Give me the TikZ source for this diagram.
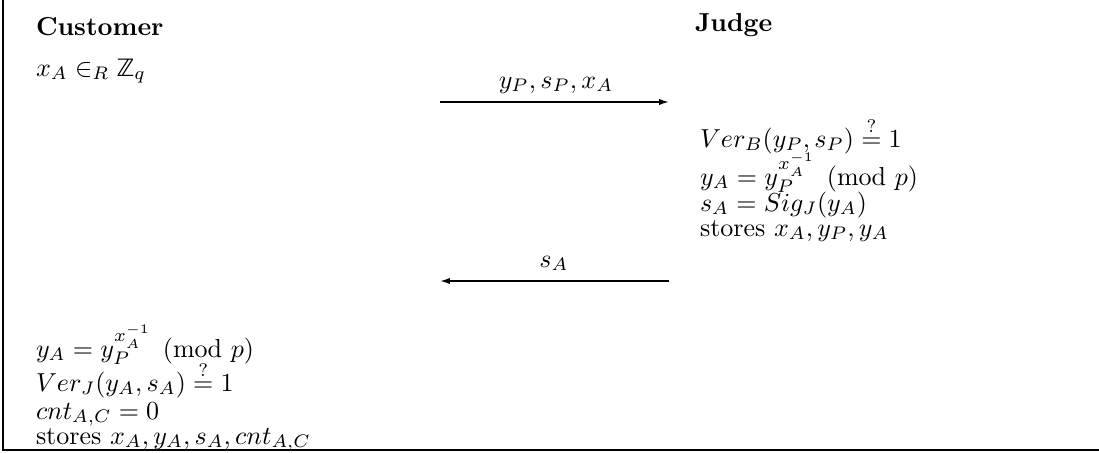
\documentclass[tikz,border=0pt]{standalone}
\usepackage{amsmath,amssymb}
\usepackage{fontspec}
\newfontfamily\dzfont[Scale=0.92]{DejaVu Sans}
\usetikzlibrary{arrows.meta}
\begin{document}
\begin{tikzpicture}[x=0.3846pt,y=-0.3846pt,
  txt/.style={anchor=base west,inner sep=0pt,outer sep=0pt},
  lbl/.style={anchor=base,inner sep=0pt},
  msg/.style={line width=0.6pt,-{Latex[length=3.8pt,width=2.4pt]}},
  frame/.style={line width=0.75pt}]
\useasboundingbox (0,0) rectangle (1099,452);
% frame
\coordinate (ftop) at (3,0);
\coordinate (fcorner) at (3,450);
\coordinate (fright) at (1099,450);
\draw[frame] (ftop) -- (fcorner) -- (fright);
% headers
\node[txt] (cust) at (36,35) {\textbf{Customer}};
\node[txt] (judge) at (695,31) {\textbf{Judge}};
\node[txt] (c1) at (36,76) {$x_A \in_R \hbox{\dzfont ℤ}_q$};
% message 1
\coordinate (m1s) at (440,102);
\coordinate (m1e) at (669,102);
\draw[msg] (m1s) -- (m1e);
\node[lbl] (l1) at (556,88) {$y_P, s_P, x_A$};
% judge block
\node[txt] (j1) at (700,147) {$Ver_B(y_P,s_P) \stackrel{?}{=} 1$};
\node[txt] (j2) at (700,185) {$y_A = y_P^{x_A^{-1}} \pmod p$};
\node[txt] (j3) at (700,211) {$s_A = Sig_J(y_A)$};
\node[txt] (j4) at (700,236) {stores $x_A, y_P, y_A$};
% message 2
\coordinate (m2s) at (669,281);
\coordinate (m2e) at (440,281);
\draw[msg] (m2s) -- (m2e);
\node[lbl] (l2) at (554,267) {$s_A$};
% customer block
\node[txt] (c2) at (36,357) {$y_A = y_P^{x_A^{-1}} \pmod p$};
\node[txt] (c3) at (36,391) {$Ver_J(y_A,s_A) \stackrel{?}{=} 1$};
\node[txt] (c4) at (36,419) {$cnt_{A,C} = 0$};
\node[txt] (c5) at (36,444) {stores $x_A, y_A, s_A, cnt_{A,C}$};
\end{tikzpicture}
\end{document}
